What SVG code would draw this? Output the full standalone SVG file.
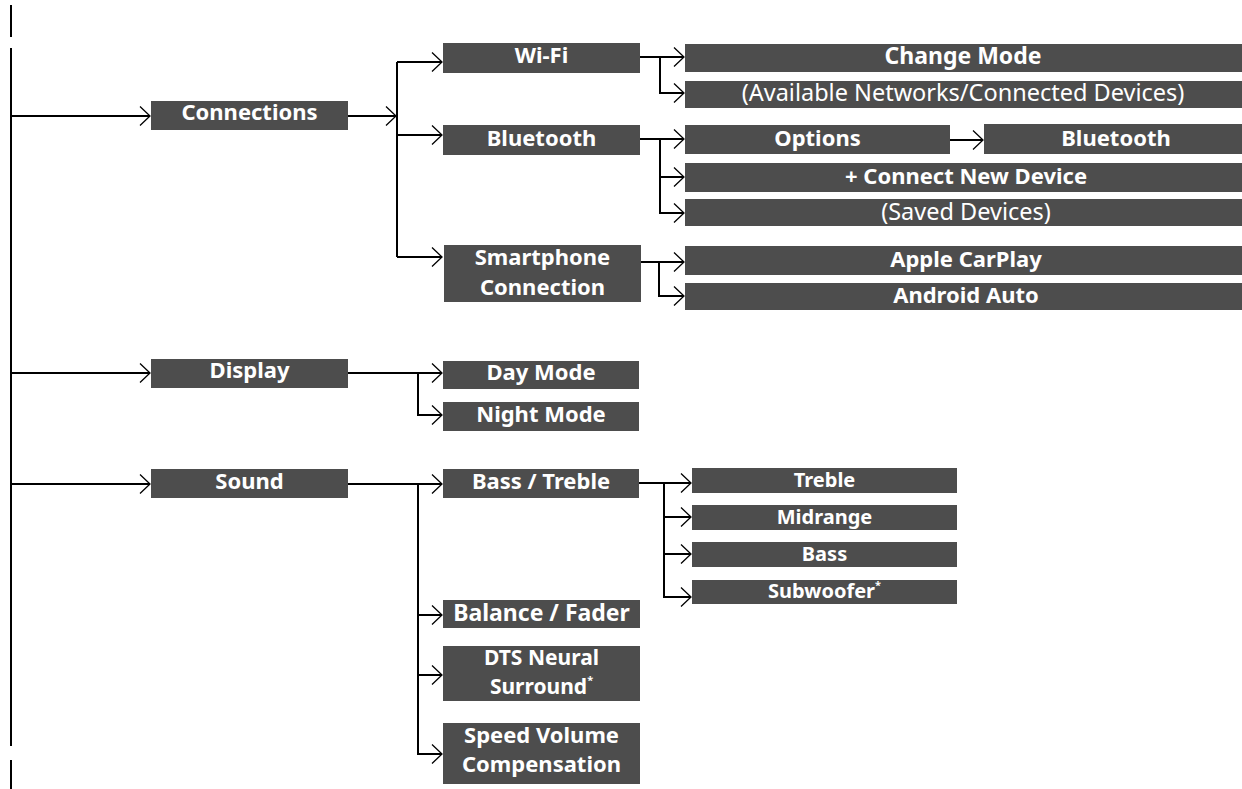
<svg xmlns="http://www.w3.org/2000/svg" width="1242" height="789" viewBox="0 0 1242 789">
<style>
.box{fill:#4d4d4d}
.t{font-family:"Noto Sans","Open Sans","DejaVu Sans",sans-serif;font-weight:700;font-size:22px;fill:#fff;text-anchor:middle}
.r{font-weight:400;font-size:23.5px}
.w{font-size:23px}
.s{font-size:20px}
.d{font-size:21px}
.sup{font-size:11px}
.c{fill:none;stroke:#000;stroke-width:2}
.a{marker-end:url(#arr)}
</style>
<defs>
<marker id="arr" markerUnits="userSpaceOnUse" markerWidth="12" markerHeight="22" viewBox="0 0 12 22" refX="11" refY="11" orient="auto">
<path d="M1,1.5 L11,11 L1,20.5" fill="none" stroke="#000" stroke-width="1.3"/>
</marker>
</defs>
<g id="connectors">
<path class="c" d="M11,5 V37 M11,48 V746 M11,760 V789"/>
<path class="c a" d="M11,116 H150"/>
<path class="c a" d="M11,373 H150"/>
<path class="c a" d="M11,484 H150"/>
<path class="c a" d="M348,116 H396"/>
<path class="c" d="M397,62 V257"/>
<path class="c a" d="M397,62 H442"/>
<path class="c a" d="M397,135 H442"/>
<path class="c a" d="M397,257 H442"/>
<path class="c a" d="M640,57 H684"/>
<path class="c a" d="M660,57 V93 H684"/>
<path class="c a" d="M640,139 H684"/>
<path class="c a" d="M660,139 V213 H684"/>
<path class="c a" d="M660,177 H684"/>
<path class="c a" d="M950,140 H983"/>
<path class="c a" d="M641,262 H684"/>
<path class="c a" d="M659,262 V296 H684"/>
<path class="c a" d="M348,373 H442"/>
<path class="c a" d="M418,373 V415 H442"/>
<path class="c a" d="M348,484 H442"/>
<path class="c a" d="M418,484 V754 H442"/>
<path class="c a" d="M418,615 H442"/>
<path class="c a" d="M418,675 H442"/>
<path class="c a" d="M639,483 H691"/>
<path class="c a" d="M664,483 V597 H691"/>
<path class="c a" d="M664,517 H691"/>
<path class="c a" d="M664,554 H691"/>
</g>
<g id="connections"><rect class="box" x="151" y="101" width="197" height="29"/><text class="t" x="249.5" y="120">Connections</text></g>
<g id="display"><rect class="box" x="151" y="359" width="197" height="29"/><text class="t" x="249.5" y="378">Display</text></g>
<g id="sound"><rect class="box" x="151" y="469" width="197" height="29"/><text class="t" x="249.5" y="489">Sound</text></g>
<g id="wifi"><rect class="box" x="443" y="43" width="197" height="30"/><text class="t" x="541.5" y="63">Wi-Fi</text></g>
<g id="bluetooth"><rect class="box" x="443" y="125" width="197" height="30"/><text class="t" x="541.5" y="146">Bluetooth</text></g>
<g id="smartphone"><rect class="box" x="444" y="245" width="197" height="57"/><text class="t" x="542.5" y="265">Smartphone</text><text class="t" x="542.5" y="295">Connection</text></g>
<g id="daymode"><rect class="box" x="443" y="361" width="196" height="28"/><text class="t" x="541" y="380">Day Mode</text></g>
<g id="nightmode"><rect class="box" x="443" y="402" width="196" height="29"/><text class="t" x="541" y="422">Night Mode</text></g>
<g id="basstreble"><rect class="box" x="443" y="469" width="196" height="29"/><text class="t" x="541" y="489">Bass / Treble</text></g>
<g id="balance"><rect class="box" x="443" y="600" width="197" height="28"/><text class="t w" x="541.5" y="621">Balance / Fader</text></g>
<g id="dts"><rect class="box" x="443" y="646" width="197" height="55"/><text class="t d" x="541.5" y="665">DTS Neural</text><text class="t d" x="541.5" y="693.5">Surround<tspan class="sup" dy="-10">*</tspan></text></g>
<g id="speed"><rect class="box" x="443" y="723" width="197" height="61"/><text class="t" x="541.5" y="743">Speed Volume</text><text class="t" x="541.5" y="772">Compensation</text></g>
<g id="changemode"><rect class="box" x="685" y="44" width="557" height="28"/><text class="t w" x="963" y="64">Change Mode</text></g>
<g id="available"><rect class="box" x="685" y="81" width="557" height="27"/><text class="t r" x="963" y="101">(Available Networks/Connected Devices)</text></g>
<g id="options"><rect class="box" x="685" y="125" width="265" height="29"/><text class="t" x="817.5" y="146">Options</text></g>
<g id="bluetooth2"><rect class="box" x="984" y="124" width="258" height="30"/><text class="t" x="1116" y="146">Bluetooth</text></g>
<g id="connectnew"><rect class="box" x="685" y="163" width="557" height="29"/><text class="t" x="966" y="184">+ Connect New Device</text></g>
<g id="saved"><rect class="box" x="685" y="199" width="557" height="27"/><text class="t r" x="966" y="220">(Saved Devices)</text></g>
<g id="carplay"><rect class="box" x="685" y="246" width="557" height="29"/><text class="t" x="966" y="267">Apple CarPlay</text></g>
<g id="androidauto"><rect class="box" x="685" y="283" width="557" height="27"/><text class="t" x="966" y="303">Android Auto</text></g>
<g id="treble"><rect class="box" x="692" y="468" width="265" height="25"/><text class="t s" x="824.5" y="487">Treble</text></g>
<g id="midrange"><rect class="box" x="692" y="505" width="265" height="25"/><text class="t s" x="824.5" y="524">Midrange</text></g>
<g id="bass"><rect class="box" x="692" y="542" width="265" height="25"/><text class="t s" x="824.5" y="561">Bass</text></g>
<g id="subwoofer"><rect class="box" x="692" y="580" width="265" height="24"/><text class="t s" x="824.5" y="598">Subwoofer<tspan class="sup" dy="-9">*</tspan></text></g>
</svg>
